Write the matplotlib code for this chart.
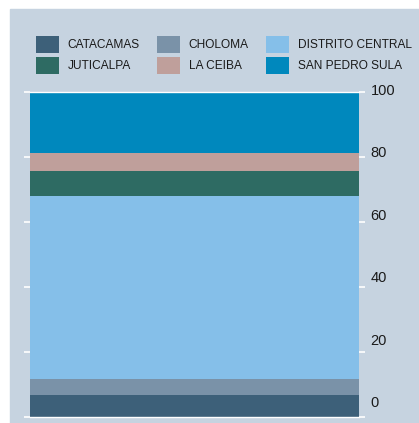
import matplotlib.pyplot as plt
from matplotlib.patches import Rectangle

plt.rcParams['font.family'] = ['Liberation Sans', 'DejaVu Sans']

cities = ['CATACAMAS', 'CHOLOMA', 'DISTRITO CENTRAL', 'JUTICALPA', 'LA CEIBA', 'SAN PEDRO SULA']
shares = [6.7, 4.8, 56.5, 7.7, 5.5, 18.8]
colors = ['#3d6079', '#7a92a8', '#85bfe9', '#2e6b63', '#bf9f9b', '#0088bd']
ticks = [0, 20, 40, 60, 80, 100]

W, H = 419, 423
fig = plt.figure(figsize=(W / 100, H / 100), dpi=100, facecolor='white')
bg = '#c6d3e0'
fig.add_artist(Rectangle((10 / W, 0), 1 - 10 / W, 1 - 9 / H,
                         transform=fig.transFigure, color=bg, zorder=0))

ax = fig.add_axes([30 / W, (H - 416.7) / H, 329 / W, 324.7 / H])
ax.set_facecolor('none')

bottom = 0
handles = []
for name, val, col in zip(cities, shares, colors):
    b = ax.bar(0, val, bottom=bottom, width=1, color=col, label=name)
    handles.append(b)
    bottom += val

ax.set_xlim(-0.5, 0.5)
ax.set_ylim(0, 100)
ax.set_xticks([])
ax.set_yticks(ticks)
ax.tick_params(axis='y', left=True, right=True, labelleft=False, labelright=False,
               direction='out', length=4, width=1.2, color='white')
for s in ['left', 'right']:
    ax.spines[s].set_visible(False)
for s in ['top', 'bottom']:
    ax.spines[s].set_color('white')
    ax.spines[s].set_linewidth(1)

# value labels sit on a slightly compressed scale to the right of the bar
for t in ticks:
    ax.text(1.035, (4.2 + t * 0.961) / 100, str(t), transform=ax.transAxes,
            ha='left', va='center', fontsize=10.5, color='#1a1a1a')

# legend order runs down the columns
order = [0, 3, 1, 4, 2, 5]
leg = fig.legend([handles[i] for i in order], [cities[i] for i in order],
                 ncol=3, loc='upper left', bbox_to_anchor=(36 / W, 1 - 36 / H),
                 frameon=False, fontsize=8.6, borderpad=0, borderaxespad=0,
                 handlelength=1.95, handleheight=1.75, handletextpad=0.7,
                 columnspacing=1.45, labelspacing=0.4)
for t in leg.get_texts():
    t.set_color('#1a1a1a')

fig.savefig('out.png', dpi=100, facecolor='white')
